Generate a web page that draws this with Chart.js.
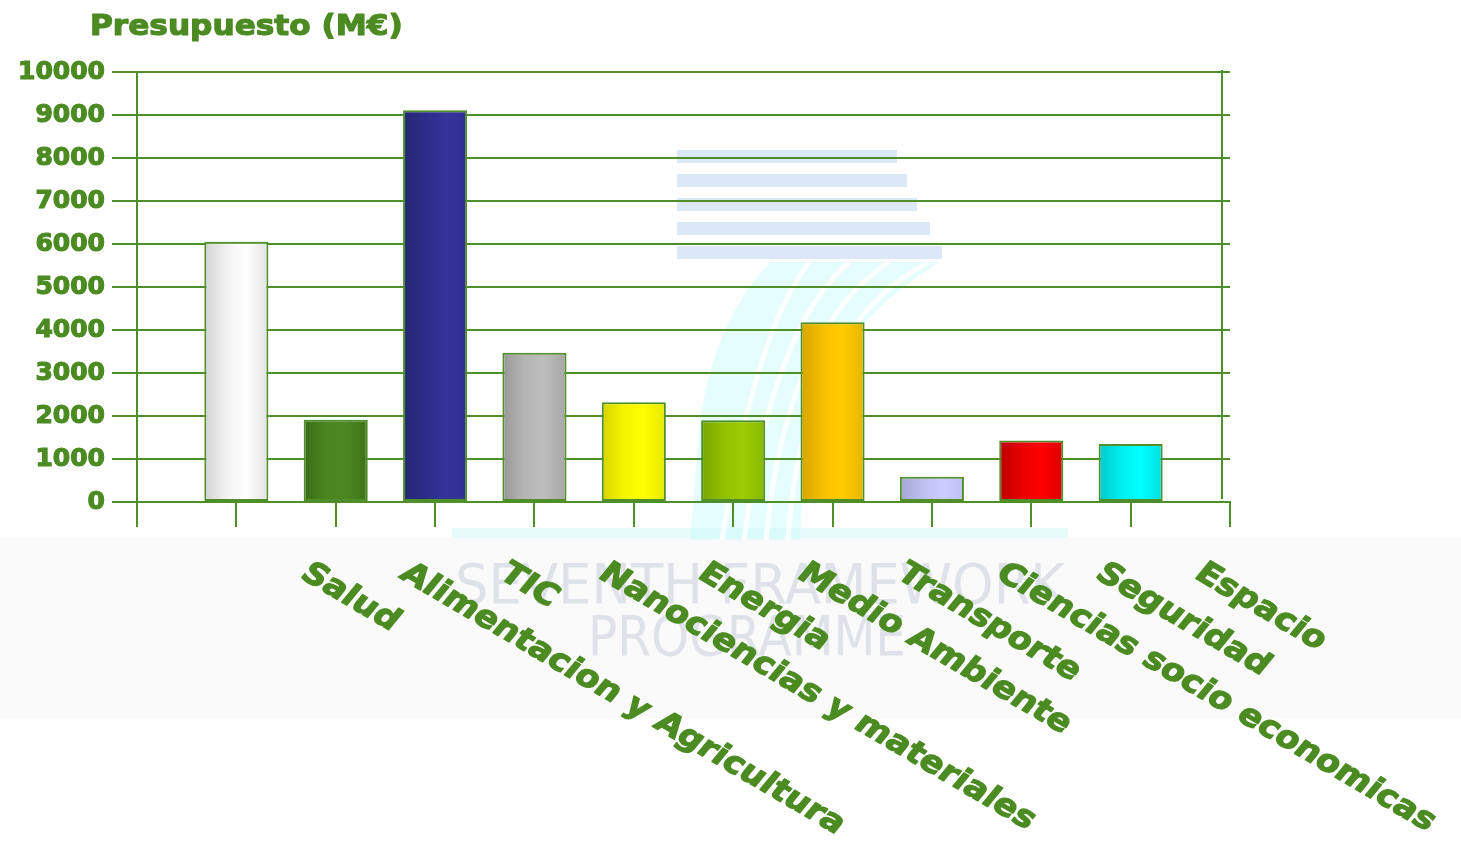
<!DOCTYPE html>
<html>
<head>
<meta charset="utf-8">
<script src="https://cdn.jsdelivr.net/npm/chart.js@4/dist/chart.umd.min.js"></script>
<style>
  html, body { margin: 0; padding: 0; background: #ffffff; }
  #wrap { width: 1461px; height: 841px; position: relative; }
</style>
</head>
<body>
<div id="wrap"><canvas id="c" width="1461" height="841"></canvas></div>
<script>
// ---- data ----
const chartTitle = 'Presupuesto (M€)';
const categories = ['Salud', 'Alimentacion y Agricultura', 'TIC', 'Nanociencias y materiales', 'Energia',
                    'Medio Ambiente', 'Transporte', 'Ciencias socio economicas', 'Seguridad', 'Espacio'];
const values = [6050, 1910, 9110, 3470, 2320, 1900, 4180, 590, 1430, 1350];
const yMin = 0;
const yMax = 10000;
const yStep = 1000;

// ---- styles ----
const GREEN = '#4b8b22';
const LINE = '#4f8f2a';
const barShades = [
  ['#d2d2d2', '#f2f2f2', '#ffffff', '#e2e2e2'],
  ['#3a6c17', '#4a8520', '#4c8822', '#3d7219'],
  ['#262676', '#2c2c88', '#33339a', '#303094'],
  ['#979797', '#b6b6b6', '#bdbdbd', '#a6a6a6'],
  ['#d4d400', '#f4f400', '#ffff00', '#e6e600'],
  ['#78a400', '#92c000', '#9ccc00', '#88b800'],
  ['#d6a400', '#f4c000', '#ffcc00', '#e4b400'],
  ['#a6a6d2', '#bebeee', '#ccccff', '#c0c0f4'],
  ['#bc0000', '#e80000', '#ff0000', '#dc0000'],
  ['#00c8c8', '#00eeee', '#00ffff', '#00dede']
];

// chart slots: first and last slot empty; the category texts sit one slot to the right of their bars
const slotLabels = ['', ''].concat(categories);
const slotValues = [null].concat(values, [null]);
const slotShades = [null].concat(barShades, [null]);
const BAR_PCT = 0.645;

function barFill(ctx) {
  const shades = slotShades[ctx.dataIndex];
  if (!shades) return 'rgba(0,0,0,0)';
  const chart = ctx.chart;
  const xs = chart.scales && chart.scales.x;
  if (!xs || !chart.chartArea) return shades[2];
  const cx = xs.getPixelForValue(ctx.dataIndex);
  const half = (xs.getPixelForValue(1) - xs.getPixelForValue(0)) * BAR_PCT / 2;
  const g = chart.ctx.createLinearGradient(cx - half, 0, cx + half, 0);
  g.addColorStop(0, shades[0]);
  g.addColorStop(0.35, shades[1]);
  g.addColorStop(0.65, shades[2]);
  g.addColorStop(1, shades[3]);
  return g;
}

const backdrop = {
  id: 'backdrop',
  beforeDraw(chart) {
    const ctx = chart.ctx;
    ctx.save();
    ctx.fillStyle = '#ffffff';
    ctx.fillRect(0, 0, chart.width, chart.height);
    // light band behind the category texts
    ctx.fillStyle = '#fafafa';
    ctx.fillRect(0, 538, chart.width, 180);
    ctx.fillStyle = '#e8fbfb';
    ctx.fillRect(452, 528, 616, 10);
    // faint programme logo
    ctx.fillStyle = 'rgba(185, 210, 242, 0.5)';
    const rows = [[150, 897], [174, 907], [198, 917], [222, 930], [246, 942]];
    rows.forEach(r => ctx.fillRect(677, r[0], r[1] - 677, 13));
    ctx.fillStyle = 'rgba(200, 250, 250, 0.45)';
    ctx.beginPath();
    ctx.moveTo(770, 262); ctx.lineTo(940, 262);
    ctx.quadraticCurveTo(830, 330, 805, 430);
    ctx.lineTo(800, 540); ctx.lineTo(690, 540);
    ctx.lineTo(700, 420);
    ctx.quadraticCurveTo(715, 320, 770, 262);
    ctx.closePath(); ctx.fill();
    ctx.strokeStyle = 'rgba(255,255,255,0.85)';
    ctx.lineWidth = 5;
    for (let k = 0; k < 4; k++) {
      ctx.beginPath();
      const o = 22 * (k + 1);
      ctx.moveTo(770 + o * 1.8, 262);
      ctx.quadraticCurveTo(740 + o * 0.7, 330, 700 + o, 540);
      ctx.stroke();
    }
    // faint programme name
    ctx.fillStyle = '#dfe2e8';
    ctx.textBaseline = 'alphabetic';
    ctx.textAlign = 'left';
    ctx.font = '56px "DejaVu Sans"';
    let w = ctx.measureText('SEVENTH FRAMEWORK').width;
    ctx.save(); ctx.translate(455, 603); ctx.scale(610 / w, 1); ctx.fillText('SEVENTH FRAMEWORK', 0, 0); ctx.restore();
    w = ctx.measureText('PROGRAMME').width;
    ctx.save(); ctx.translate(588, 655); ctx.scale(318 / w, 1); ctx.fillText('PROGRAMME', 0, 0); ctx.restore();
    ctx.restore();
  },
  afterDraw(chart) {
    const ctx = chart.ctx;
    const area = chart.chartArea;
    const xs = chart.scales.x;
    ctx.save();
    // right frame line
    ctx.strokeStyle = LINE;
    ctx.lineWidth = 2;
    ctx.beginPath();
    ctx.moveTo(area.right - 8, area.top - 2);
    ctx.lineTo(area.right - 8, area.bottom - 3);
    ctx.stroke();
    // title
    ctx.fillStyle = GREEN;
    ctx.strokeStyle = GREEN;
    ctx.lineJoin = 'round';
    ctx.textAlign = 'left';
    ctx.textBaseline = 'alphabetic';
    ctx.font = 'bold 29px "DejaVu Sans"';
    ctx.save();
    ctx.translate(area.left - 47, 35);
    ctx.scale(1.075, 1);
    ctx.lineWidth = 1.2;
    ctx.fillText(chartTitle, 0, 0);
    ctx.strokeText(chartTitle, 0, 0);
    ctx.restore();
    // slanted category texts
    ctx.font = 'bold 30px "DejaVu Sans"';
    const theta = Math.atan(0.578 * 1.2);
    slotLabels.forEach((lab, i) => {
      if (!lab) return;
      const px = xs.getPixelForValue(i);
      ctx.save();
      ctx.translate(px - 37, area.bottom + 75);
      ctx.scale(1.18, 1);
      ctx.rotate(theta);
      ctx.lineWidth = 1.2;
      ctx.fillText(lab, 0, 0);
      ctx.strokeText(lab, 0, 0);
      ctx.restore();
    });
    ctx.restore();
  }
};

new Chart(document.getElementById('c'), {
  type: 'bar',
  data: {
    labels: slotLabels,
    datasets: [{
      data: slotValues,
      backgroundColor: barFill,
      borderColor: LINE,
      borderWidth: 2,
      borderSkipped: false,
      categoryPercentage: 1,
      barPercentage: BAR_PCT
    }]
  },
  options: {
    responsive: false,
    animation: false,
    events: [],
    layout: { padding: { top: 72, right: 231, left: 0, bottom: 0 } },
    plugins: { legend: { display: false }, tooltip: { enabled: false }, title: { display: false } },
    scales: {
      x: {
        type: 'category',
        offset: false,
        grid: { offset: false, drawOnChartArea: false, drawTicks: true, tickLength: 25, color: LINE, lineWidth: 2 },
        border: { display: true, color: LINE, width: 2 },
        ticks: { display: false, autoSkip: false },
        afterFit(s) { s.height = 339; }
      },
      y: {
        min: yMin,
        max: yMax,
        grid: { color: LINE, lineWidth: 2, tickLength: 25, drawTicks: true },
        border: { display: true, color: LINE, width: 2 },
        ticks: {
          stepSize: yStep,
          padding: 7,
          color: GREEN,
          textStrokeColor: GREEN,
          textStrokeWidth: 1.2,
          font: { family: 'DejaVu Sans', weight: 'bold', size: 25 },
          callback: (v) => String(v)
        },
        afterFit(s) { s.width = 137; }
      }
    }
  },
  plugins: [backdrop]
});
</script>
</body>
</html>
